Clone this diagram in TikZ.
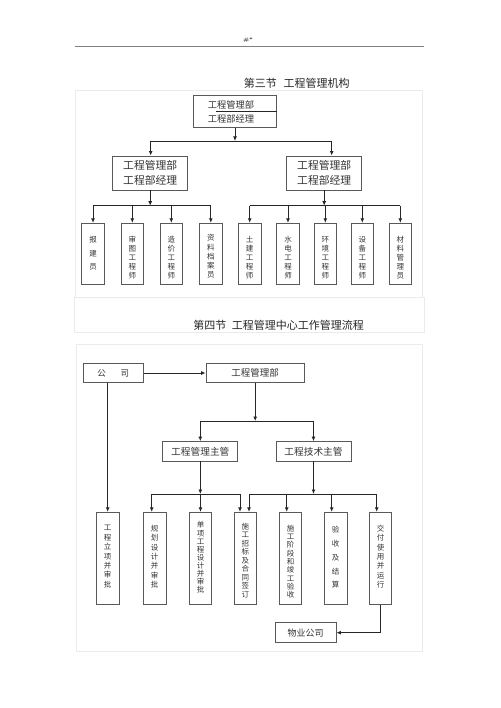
\documentclass[tikz,border=0pt]{standalone}
\usepackage{fontspec}
\newfontfamily\cjk{Noto Sans CJK SC}
\usetikzlibrary{arrows.meta}
\tikzset{
  frame/.style={draw=black!8, line width=0.6pt},
  box/.style={draw=black!65, line width=0.9pt, inner sep=0pt, text=black!80},
  hbox/.style={box, minimum height=19.4pt},
  vbox/.style={box, minimum width=22.7pt},
  link/.style={draw=black!85, line width=0.9pt},
  arr/.style={link, -{Latex[length=4.5pt,width=4pt]}},
  ttl/.style={inner sep=0pt, text=black!85, font=\cjk\fontsize{11}{13}\selectfont},
  vtxt/.style={align=center, inner sep=0pt, text=black!80, font={\cjk\fontsize{7.5}{#1}\selectfont}},
}
\begin{document}
\begin{tikzpicture}[x=1pt,y=-1pt]
                \useasboundingbox (0,0) rectangle (500,708);
                
                % Drawing page header
                \node [inner sep=0pt, text=black!80, font=\bfseries\fontsize{5}{6}\selectfont] (hdr) at (248,40) {\#*};%
                \draw [draw=black!50, line width=1pt] (75,46.7) -- (424,46.7);%
                
                % Drawing faint frames
                \draw [frame] (75,90) rectangle (422.7,297);%
                \draw [frame] (74,297) rectangle (424,332);%
                \draw [frame] (76,344) rectangle (422,651);%
                
                % Marking titles
                \node [ttl] (ttla) at (296.7,83.3) {第三节\hspace{0.6em}工程管理机构};%
                \node [ttl] (ttlb) at (278.5,325) {第四节\hspace{0.5em}工程管理中心工作管理流程};%
                
                % Drawing box gcb (head of department)
                \node [box, minimum width=82.7pt, minimum height=32.3pt] (gcb) at (235,111.2) {};%
                \node [inner sep=0pt, text=black!80, font=\cjk\fontsize{9.3}{11}\selectfont] (gcba) at (231,105) {工程管理部};%
                \node [inner sep=0pt, text=black!80, font=\cjk\fontsize{9.3}{11}\selectfont] (gcbb) at (231,119) {工程部经理};%
                \draw [link] (216,111.7) -- (gcb.east |- 0,111.7);%
                
                % Drawing boxes lm and rm
                \node [box, minimum width=75pt, minimum height=34pt, align=left, font=\cjk\fontsize{10.8}{15}\selectfont] (lm) at (150.2,173) {工程管理部\\工程部经理};%
                \node [box, minimum width=75pt, minimum height=34pt, align=left, font=\cjk\fontsize{10.8}{15}\selectfont] (rm) at (324.2,173) {工程管理部\\工程部经理};%
                
                % Drawing staff boxes of section three
                \node [vbox, minimum height=61pt] (bjy) at (93,253.8) {};%
                \node [vbox, minimum height=61pt] (stg) at (132.3,253.8) {};%
                \node [vbox, minimum height=61pt] (zjg) at (171.3,253.8) {};%
                \node [vbox, minimum height=61pt] (zla) at (210.8,253.8) {};%
                \node [vbox, minimum height=61pt] (tjg) at (249.7,253.8) {};%
                \node [vbox, minimum height=61pt] (sdg) at (288,253.8) {};%
                \node [vbox, minimum height=61pt] (hjg) at (325.3,253.8) {};%
                \node [vbox, minimum height=61pt] (sbg) at (362.3,253.8) {};%
                \node [vbox, minimum height=61pt] (clg) at (400.3,253.8) {};%
                \node [vtxt=13.3] (bjyt) at (93,253.3) {报\\建\\员};%
                \node [vtxt=9] (stgt) at (132.3,258) {审\\图\\工\\程\\师};%
                \node [vtxt=9] (zjgt) at (171.3,258) {造\\价\\工\\程\\师};%
                \node [vtxt=9.3] (zlat) at (210.8,256.5) {资\\料\\档\\案\\员};%
                \node [vtxt=9] (tjgt) at (249.7,258) {土\\建\\工\\程\\师};%
                \node [vtxt=9] (sdgt) at (288,258) {水\\电\\工\\程\\师};%
                \node [vtxt=9] (hjgt) at (325.3,258) {环\\境\\工\\程\\师};%
                \node [vtxt=9] (sbgt) at (362.3,258) {设\\备\\工\\程\\师};%
                \node [vtxt=9] (clgt) at (400.3,258) {材\\料\\管\\理\\员};%
                
                % Drawing links gcb -> lm, rm
                \coordinate (jl) at (150.7,141);%
                \coordinate (jr) at (331.7,141);%
                \draw [arr] (gcb.south) -- (gcb.south |- jl);%
                \draw [link] (jl) -- (jr);%
                \draw [arr] (jl) -- (jl |- lm.north);%
                \draw [arr] (jr) -- (jr |- rm.north);%
                
                % Drawing links lm -> staff, rm -> staff
                \coordinate (busa) at (0,205.7);%
                \draw [arr] (lm.south) -- (lm.south |- busa);%
                \draw [link] (bjy.north |- busa) -- (zla.north |- busa);%
                \draw [arr] (bjy.north |- busa) -- (bjy.north);%
                \draw [arr] (stg.north |- busa) -- (stg.north);%
                \draw [arr] (zjg.north |- busa) -- (zjg.north);%
                \draw [arr] (zla.north |- busa) -- (zla.north);%
                \draw [arr] (rm.south) -- (rm.south |- busa);%
                \draw [link] (tjg.north |- busa) -- (clg.north |- busa);%
                \draw [arr] (tjg.north |- busa) -- (tjg.north);%
                \draw [arr] (sdg.north |- busa) -- (sdg.north);%
                \draw [arr] (hjg.north |- busa) -- (hjg.north);%
                \draw [arr] (sbg.north |- busa) -- (sbg.north);%
                \draw [arr] (clg.north |- busa) -- (clg.north);%
                
                % Drawing boxes of section four
                \node [hbox, minimum width=60pt, font=\cjk\fontsize{8.5}{10}\selectfont] (gs) at (113.3,373) {公\hspace{14.8pt}司};%
                \node [hbox, minimum width=98.3pt, font=\cjk\fontsize{9.5}{11}\selectfont] (gb) at (255.2,373) {工程管理部};%
                \node [hbox, minimum width=75pt, font=\cjk\fontsize{9.7}{11}\selectfont] (gm) at (200.3,451.3) {工程管理主管};%
                \node [hbox, minimum width=75pt, font=\cjk\fontsize{9.7}{11}\selectfont] (gt) at (313.5,451.3) {工程技术主管};%
                \node [hbox, minimum width=61pt, minimum height=20pt, font=\cjk\fontsize{9}{11}\selectfont] (wy) at (305.5,632.7) {物业公司};%
                
                % Drawing step boxes
                \node [vbox, minimum height=92pt] (gxl) at (107.7,558.3) {};%
                \node [vbox, minimum height=92pt] (ghs) at (154.7,558.3) {};%
                \node [vbox, minimum height=92pt] (dxs) at (200.5,558.3) {};%
                \node [vbox, minimum height=92pt] (sgz) at (245.3,558.3) {};%
                \node [vbox, minimum height=92pt] (sgy) at (290.5,558.3) {};%
                \node [vbox, minimum height=92pt] (ysj) at (335.7,558.3) {};%
                \node [vbox, minimum height=92pt] (jfy) at (380.5,558.3) {};%
                \node [vtxt=9.4] (gxlt) at (107.7,556.7) {工\\程\\立\\项\\并\\审\\批};%
                \node [vtxt=9.4] (ghst) at (154.7,556.7) {规\\划\\设\\计\\并\\审\\批};%
                \node [vtxt=8.1] (dxst) at (200.5,557.5) {单\\项\\工\\程\\设\\计\\并\\审\\批};%
                \node [vtxt=8.5] (sgzt) at (245.3,560.5) {施\\工\\招\\标\\及\\合\\同\\签\\订};%
                \node [vtxt=8.3] (sgyt) at (290.5,561.7) {施\\工\\阶\\段\\和\\竣\\工\\验\\收};%
                \node [vtxt=13.75] (ysjt) at (335.7,557.5) {验\\收\\及\\结\\算};%
                \node [vtxt=9.4] (jfyt) at (380.5,556.7) {交\\付\\使\\用\\并\\运\\行};%
                
                % Drawing links gs -> gb -> gm, gt
                \coordinate (busb) at (0,421);%
                \draw [arr] (gs.east) -- (gb.west);%
                \draw [arr] (gb.south) -- (gb.south |- busb);%
                \draw [link] (gm.north |- busb) -- (gt.north |- busb);%
                \draw [arr] (gm.north |- busb) -- (gm.north);%
                \draw [arr] (gt.north |- busb) -- (gt.north);%
                
                % Drawing links to step boxes
                \coordinate (busc) at (0,494);%
                \coordinate (ca) at (151.7,494);%
                \coordinate (cb) at (240,494);%
                \coordinate (cc) at (249,494);%
                \coordinate (cd) at (286.7,494);%
                \coordinate (ce) at (331.7,494);%
                \coordinate (cf) at (376.7,494);%
                \draw [arr] (gs.south -| gxl.north) -- (gxl.north);%
                \draw [arr] (gm.south) -- (gm.south |- busc);%
                \draw [link] (ca) -- (cb);%
                \draw [arr] (ca) -- (ca |- ghs.north);%
                \draw [arr] (dxs.north |- busc) -- (dxs.north);%
                \draw [arr] (cb) -- (cb |- sgz.north);%
                \draw [arr] (gt.south) -- (gt.south |- busc);%
                \draw [link] (cc) -- (cf);%
                \draw [arr] (cc) -- (cc |- sgz.north);%
                \draw [arr] (cd) -- (cd |- sgy.north);%
                \draw [arr] (ce) -- (ce |- ysj.north);%
                \draw [arr] (cf) -- (cf |- jfy.north);%
                
                % Drawing link jfy -> wy
                \draw [arr] (jfy.south) |- (wy.east);%
\end{tikzpicture}
\end{document}
